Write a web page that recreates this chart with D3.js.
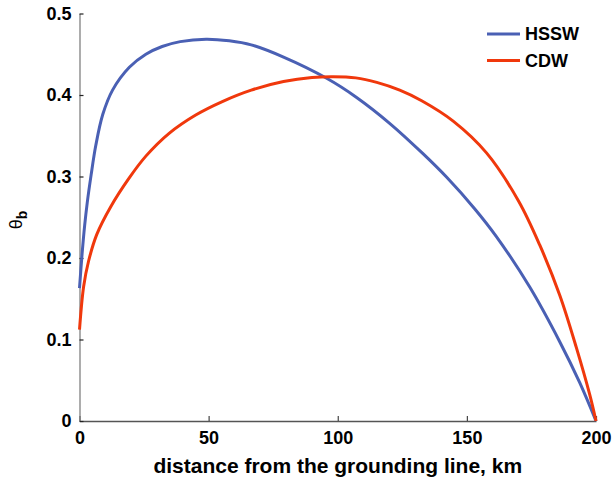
<!DOCTYPE html>
<html>
<head>
<meta charset="utf-8">
<script src="https://cdn.jsdelivr.net/npm/d3@7"></script>
<style>
  html, body { margin: 0; padding: 0; background: #fff; }
  svg { display: block; font-family: "Liberation Sans", Arial, Helvetica, sans-serif; }
  .tick text { font-weight: bold; font-size: 18px; fill: #000; }
</style>
</head>
<body>
<svg id="chart" width="613" height="481"></svg>
<script>
// Basal thermal driving θ_b along the flowline, for two source water masses.
const seriesNames = ["HSSW", "CDW"];
const seriesColors = ["#4a60b4", "#f0380c"];

// HSSW profile: distance (km) and θ_b
const hsswKm = [0, 1, 2, 3, 4.5, 6.3, 9, 12.8, 19.3, 25.7, 32, 39, 49, 58, 66.5, 79, 95.7, 107.3, 120.2, 133, 142.2, 153, 161.5, 174.4, 186, 193.7, 200];
const hsswTheta = [0.163, 0.205, 0.240, 0.268, 0.302, 0.338, 0.376, 0.406, 0.434, 0.450, 0.4595, 0.4655, 0.4685, 0.4665, 0.4615, 0.4465, 0.4205, 0.397, 0.365, 0.328, 0.299, 0.2605, 0.226, 0.164, 0.097, 0.047, 0];

// CDW profile: distance (km) and θ_b
const cdwKm = [0, 1.6, 3.5, 6.7, 12.1, 19.2, 25.7, 34.7, 45, 55.3, 66.5, 79, 90, 98.3, 107, 115.1, 124, 132.5, 144.7, 157.6, 170, 178.2, 186, 192.4, 197.6, 200];
const cdwTheta = [0.112, 0.165, 0.196, 0.229, 0.263, 0.298, 0.325, 0.353, 0.3755, 0.392, 0.406, 0.4165, 0.4215, 0.4225, 0.421, 0.4155, 0.406, 0.393, 0.368, 0.329, 0.270, 0.216, 0.154, 0.090, 0.032, 0];

const xTicks = [0, 50, 100, 150, 200];
const yTicks = [0, 0.1, 0.2, 0.3, 0.4, 0.5];

const svg = d3.select("#chart");
const margin = { left: 79.5, right: 17, top: 13.5, bottom: 60 };
const W = 613, H = 481;

const x = d3.scaleLinear().domain([0, 200]).range([margin.left, W - margin.right]);
const y = d3.scaleLinear().domain([0, 0.5]).range([H - margin.bottom, margin.top]);

// Axes with inward ticks
const xAxis = d3.axisBottom(x).tickValues(xTicks).tickFormat(d3.format("d")).tickSizeInner(-5).tickSizeOuter(0).tickPadding(10);
const yAxis = d3.axisLeft(y).tickValues(yTicks).tickFormat(d => d === 0 ? "0" : d3.format(".1f")(d)).tickSizeInner(-4).tickSizeOuter(0).tickPadding(8);

const gx = svg.append("g").attr("transform", `translate(0,${y(0)})`).call(xAxis);
gx.select(".domain").attr("stroke", "#555").attr("stroke-width", 1.3);
gx.selectAll(".tick line").attr("stroke", "#444").attr("stroke-width", 1.2);

const gy = svg.append("g").attr("transform", `translate(${x(0)},0)`).call(yAxis);
gy.select(".domain").attr("stroke", "#808080").attr("stroke-width", 1.3);
gy.selectAll(".tick line").attr("stroke", "#222").attr("stroke-width", 1.2);

// Curves
const line = d3.line().x(d => x(d[0])).y(d => y(d[1])).curve(d3.curveCatmullRom.alpha(0.5));
const profiles = [
  d3.zip(hsswKm, hsswTheta),
  d3.zip(cdwKm, cdwTheta)
];
profiles.forEach((p, i) => {
  svg.append("path")
    .datum(p)
    .attr("fill", "none")
    .attr("stroke", seriesColors[i])
    .attr("stroke-width", 3)
    .attr("stroke-linejoin", "round")
    .attr("d", line);
});

// Legend
const legend = svg.append("g");
seriesNames.forEach((name, i) => {
  const ly = 34 + i * 26.5;
  legend.append("line")
    .attr("x1", 487).attr("x2", 520).attr("y1", ly).attr("y2", ly)
    .attr("stroke", seriesColors[i]).attr("stroke-width", 3);
  legend.append("text")
    .attr("x", 525).attr("y", ly)
    .attr("dy", "0.36em")
    .attr("font-weight", "bold").attr("font-size", 18)
    .text(name);
});

// Axis titles
svg.append("text")
  .attr("x", (x(0) + x(200)) / 2)
  .attr("y", 473)
  .attr("text-anchor", "middle")
  .attr("font-weight", "bold").attr("font-size", 21)
  .text("distance from the grounding line, km");

const yt = svg.append("text")
  .attr("transform", "translate(22,220) rotate(-90)")
  .attr("text-anchor", "middle")
  .attr("font-size", 18);
yt.append("tspan").text("θ");
yt.append("tspan").attr("dy", 5).attr("font-size", 14).attr("font-weight", "bold").text("b");
</script>
</body>
</html>
